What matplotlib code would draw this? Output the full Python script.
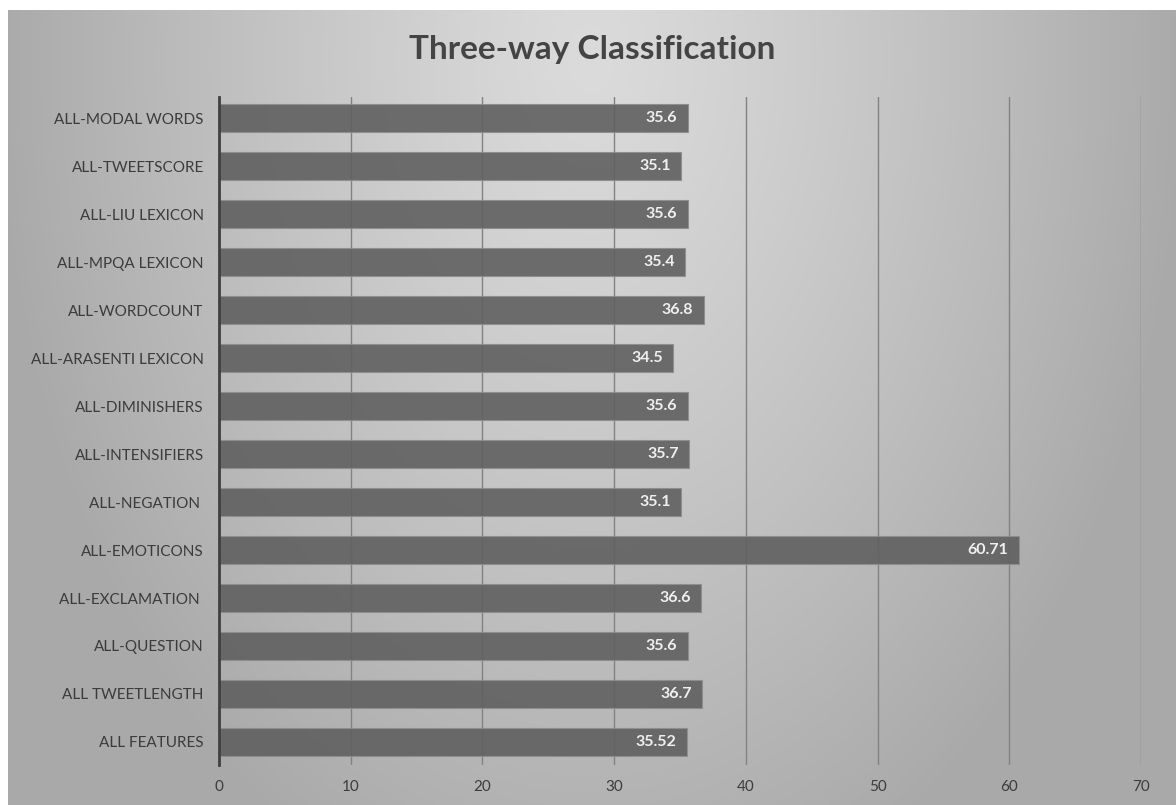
import numpy as np
import matplotlib.pyplot as plt

plt.rcParams['font.family'] = ['Lato', 'DejaVu Sans']

features = ['ALL-MODAL WORDS', 'ALL-TWEETSCORE', 'ALL-LIU LEXICON', 'ALL-MPQA LEXICON',
            'ALL-WORDCOUNT', 'ALL-ARASENTI LEXICON', 'ALL-DIMINISHERS', 'ALL-INTENSIFIERS',
            'ALL-NEGATION ', 'ALL-EMOTICONS', 'ALL-EXCLAMATION ', 'ALL-QUESTION',
            'ALL TWEETLENGTH', 'ALL FEATURES']
scores = [35.6, 35.1, 35.6, 35.4, 36.8, 34.5, 35.6, 35.7, 35.1, 60.71, 36.6, 35.6, 36.7, 35.52]
score_text = ['35.6', '35.1', '35.6', '35.4', '36.8', '34.5', '35.6', '35.7', '35.1',
              '60.71', '36.6', '35.6', '36.7', '35.52']
xticks = [0, 10, 20, 30, 40, 50, 60, 70]

W, H = 1176, 805
fig = plt.figure(figsize=(W / 100, H / 100), dpi=100)

# grey radial-ish backdrop, light near the title and darker at the corners
bg = fig.add_axes([8 / W, 0, 1 - 8 / W, 1 - 10 / H])
yy, xx = np.mgrid[0:795, 0:1168]
r = np.sqrt(((xx - 582) / 600.0) ** 2 + ((yy - 50) / 900.0) ** 2)
shade = (219 - 50 * np.clip(r, 0, 1) ** 1.2) / 255.0
bg.imshow(np.dstack([shade] * 3), aspect='auto', extent=[0, 1, 0, 1], origin='upper')
bg.set_axis_off()

ax = fig.add_axes([219 / W, 40 / H, 922 / W, 668 / H])
ax.patch.set_alpha(0)

pos = np.arange(len(features))[::-1]
ax.barh(pos, scores, height=0.58, color='#606060', alpha=0.9,
        edgecolor='#8e8e8e', linewidth=0.8, zorder=3)

for p, v, t in zip(pos, scores, score_text):
    ax.text(v - 0.8, p, t, ha='right', va='center', fontsize=11.5,
            fontweight='bold', color='#f0f0f0', zorder=4)

ax.set_xlim(0, 70)
ax.set_ylim(-0.48, 13.44)
ax.set_xticks(xticks)
ax.set_yticks(pos)
ax.set_yticklabels(features)
ax.tick_params(axis='both', length=0, labelsize=11, labelcolor='#3c3c3c')
ax.tick_params(axis='x', pad=11)
ax.tick_params(axis='y', pad=11)

ax.grid(axis='x', color='#828282', linewidth=1, zorder=1)
ax.grid(axis='y', visible=False)
for side in ['top', 'right', 'bottom']:
    ax.spines[side].set_visible(False)
ax.spines['left'].set_color('#404040')
ax.spines['left'].set_linewidth(2)
ax.spines['left'].set_zorder(5)

fig.text(592 / W, 1 - 50 / H, 'Three-way Classification', ha='center', va='center',
         fontsize=24, fontweight='bold', color='#444444')

fig.savefig('out.png', dpi=100)
